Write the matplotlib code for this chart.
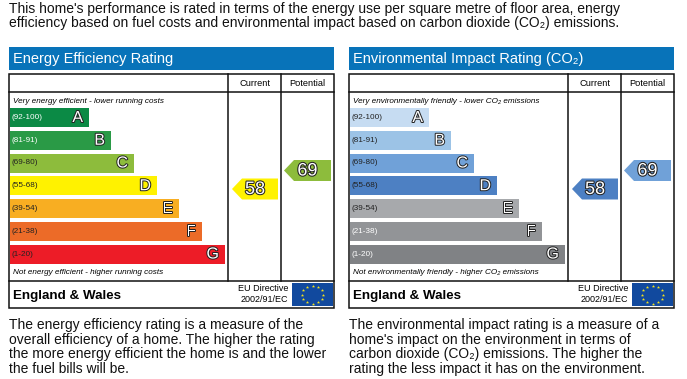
import numpy as np
import matplotlib
matplotlib.use("Agg")
import matplotlib.pyplot as plt
import matplotlib.patheffects as pe
from matplotlib.patches import Polygon, Rectangle

plt.rcParams['font.family'] = ['Liberation Sans', 'DejaVu Sans']

# Datos de las bandas
bands = ["A", "B", "C", "D", "E", "F", "G"]
ranges = ["(92-100)", "(81-91)", "(69-80)", "(55-68)", "(39-54)", "(21-38)", "(1-20)"]
bar_lengths = [79, 101, 124, 147, 169, 192, 215]
current_rating = 58
potential_rating = 69

energy_colors = ["#0b8a45", "#2a9a46", "#8dbc3c", "#fff200", "#f8ae22", "#ec6b28", "#ed1c27"]
impact_colors = ["#c6dcf2", "#9cc3e6", "#70a1d8", "#4d80c3", "#a7a9ac", "#929497", "#808285"]
energy_range_colors = ["#ffffff", "#ffffff", "#222222", "#222222", "#222222", "#222222", "#222222"]
impact_range_colors = ["#222222", "#222222", "#222222", "#222222", "#222222", "#ffffff", "#ffffff"]

intro = ["This home's performance is rated in terms of the energy use per square metre of floor area, energy",
         "efficiency based on fuel costs and environmental impact based on carbon dioxide (CO₂) emissions."]
energy_text = ["The energy efficiency rating is a measure of the",
               "overall efficiency of a home. The higher the rating",
               "the more energy efficient the home is and the lower",
               "the fuel bills will be."]
impact_text = ["The environmental impact rating is a measure of a",
               "home's impact on the environment in terms of",
               "carbon dioxide (CO₂) emissions. The higher the",
               "rating the less impact it has on the environment."]

fig = plt.figure(figsize=(6.87, 3.79), dpi=100)
ax = fig.add_axes([0, 0, 1, 1])
ax.set_xlim(0, 687)
ax.set_ylim(379, 0)
ax.axis("off")


def draw_arrow(x0, x1, yc, color, value):
    pts = [(x0, yc), (x0 + 10, yc - 10.5), (x1, yc - 10.5), (x1, yc + 10.5), (x0 + 10, yc + 10.5)]
    ax.add_patch(Polygon(pts, closed=True, fc=color, ec="none", zorder=2))
    ax.text((x0 + x1) / 2, yc + 0.5, str(value), fontsize=13, color="white", ha="center", va="center",
            zorder=3, path_effects=[pe.withStroke(linewidth=1.5, foreground="#222222")])


def draw_flag(x0):
    ax.add_patch(Rectangle((x0, 283), 41, 23, fc="#11499e", ec="none", zorder=2))
    ang = np.deg2rad(np.arange(0, 360, 30))
    ax.scatter(x0 + 20.5 + 10.5 * np.cos(ang), 294.5 + 9 * np.sin(ang), marker="*", s=6, c="#f4e21c",
               linewidths=0, zorder=3)


def draw_panel(x0, title, colors, range_colors, top_note, bottom_note, arrow_cur, arrow_pot, note_lines):
    # Cabecera azul
    ax.add_patch(Rectangle((x0, 47), 325, 23, fc="#0873b9", ec="none"))
    ax.text(x0 + 4, 59, title, fontsize=10.5, color="white", va="center", ha="left")

    # Marco y columnas
    lw = 1.1
    ax.add_patch(Rectangle((x0, 73.5), 325, 234, fc="white", ec="#111111", lw=lw, zorder=1))
    ax.plot([x0, x0 + 325], [92, 92], color="#111111", lw=lw, zorder=2)
    ax.plot([x0, x0 + 325], [281, 281], color="#111111", lw=lw, zorder=2)
    ax.plot([x0 + 219, x0 + 219], [73.5, 281], color="#111111", lw=lw, zorder=2)
    ax.plot([x0 + 272, x0 + 272], [73.5, 281], color="#111111", lw=lw, zorder=2)
    ax.text(x0 + 245.5, 84, "Current", fontsize=6.7, ha="center", va="center", zorder=3)
    ax.text(x0 + 298.5, 84, "Potential", fontsize=6.7, ha="center", va="center", zorder=3)

    # Barras
    y = np.arange(len(bands)) * 22.75 + 117.5
    ax.barh(y, bar_lengths, height=19, left=x0 + 1, color=colors, zorder=2)
    for yi, length, band, rng, rc in zip(y, bar_lengths, bands, ranges, range_colors):
        ax.text(x0 + 3, yi, rng, fontsize=5.9, color=rc, va="center", ha="left", zorder=3)
        ax.text(x0 + length - 5, yi, band, fontsize=11.5, color="white", va="center", ha="right", zorder=3,
                path_effects=[pe.withStroke(linewidth=1.4, foreground="#222222")])

    ax.text(x0 + 4, 101.5, top_note, fontsize=5.9, style="italic", va="center", zorder=3)
    ax.text(x0 + 4, 273, bottom_note, fontsize=5.9, style="italic", va="center", zorder=3)

    draw_arrow(x0 + 223, x0 + 269, 189, arrow_cur, current_rating)
    draw_arrow(x0 + 275, x0 + 322, 170.5, arrow_pot, potential_rating)

    # Pie
    ax.text(x0 + 4, 295.5, "England & Wales", fontsize=9.6, weight="bold", va="center", zorder=3)
    ax.text(x0 + 279, 288.5, "EU Directive", fontsize=6.5, ha="right", va="center", zorder=3)
    ax.text(x0 + 279, 299.5, "2002/91/EC", fontsize=6.5, ha="right", va="center", zorder=3)
    draw_flag(x0 + 283)

    for i, line in enumerate(note_lines):
        ax.text(x0, 325 + i * 14.6, line, fontsize=10, va="center", ha="left", color="#111111")


for i, line in enumerate(intro):
    ax.text(9, 9.5 + i * 14, line, fontsize=10, va="center", ha="left", color="#111111")

draw_panel(9, "Energy Efficiency Rating", energy_colors, energy_range_colors,
           "Very energy efficient - lower running costs", "Not energy efficient - higher running costs",
           "#fff200", "#8dbc3c", energy_text)
draw_panel(349, "Environmental Impact Rating (CO₂)", impact_colors, impact_range_colors,
           "Very environmentally friendly - lower CO₂ emissions", "Not environmentally friendly - higher CO₂ emissions",
           "#4d80c3", "#70a1d8", impact_text)

fig.savefig("out.png", dpi=100)
